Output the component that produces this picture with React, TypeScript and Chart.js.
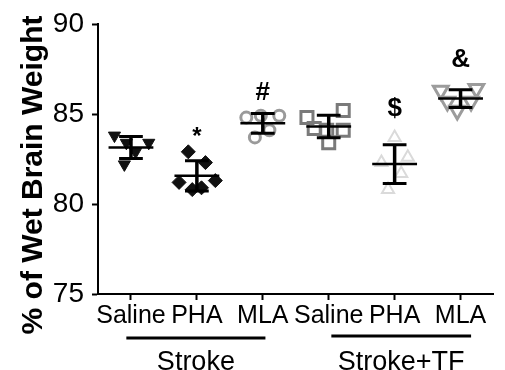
import React, { useEffect, useRef } from 'react';
import { Chart, registerables } from 'chart.js';

Chart.register(...registerables);

// ---- data ----
const categories = ['Saline', 'PHA', 'MLA', 'Saline', 'PHA', 'MLA'];
const groupNames = ['Stroke', 'Stroke+TF'];
const yTicks = [75, 80, 85, 90];
const yTitle = '% of Wet Brain Weight';

const strokeSaline = [83.8, 83.4, 83.4, 82.9, 82.2];
const strokePHA = [82.9, 82.3, 81.2, 81.3, 80.8, 80.9];
const strokeMLA = [84.8, 84.9, 84.9, 83.7, 84.1];
const tfSaline = [84.8, 85.2, 84.2, 84.1, 84.1, 83.4];
const tfPHA = [83.7, 82.6, 82.3, 81.7, 80.8];
const tfMLA = [86.3, 86.4, 85.7, 85.7, 85.2];

// horizontal scatter of each dot within its column (in category units)
const strokeSalineJitter = [-0.25, -0.07, 0.27, 0.07, -0.1];
const strokePHAJitter = [-0.13, 0.13, -0.27, 0.28, -0.07, 0.07];
const strokeMLAJitter = [-0.25, -0.03, 0.25, -0.12, 0.1];
const tfSalineJitter = [-0.33, 0.22, -0.22, -0.03, 0.22, 0];
const tfPHAJitter = [0, 0.2, -0.2, 0.1, -0.1];
const tfMLAJitter = [-0.3, 0.24, -0.2, 0.16, -0.05];

const significance = ['', '*', '#', '', '$', '&'];
const significanceY = [null, 83.7, 86.2, null, 85.3, 88.0];

const seriesValues = [strokeSaline, strokePHA, strokeMLA, tfSaline, tfPHA, tfMLA];
const seriesJitter = [strokeSalineJitter, strokePHAJitter, strokeMLAJitter, tfSalineJitter, tfPHAJitter, tfMLAJitter];

// ---- styles ----
const FONT = "'Liberation Sans', Arial, Helvetica, sans-serif";
const markerStyles = [
  { pointStyle: 'triangle', rotation: 180, radius: 7, bg: '#111111', border: '#111111', bw: 1 },
  { pointStyle: 'rectRot', rotation: 0, radius: 7, bg: '#111111', border: '#111111', bw: 1 },
  { pointStyle: 'circle', rotation: 0, radius: 5.5, bg: 'rgba(0,0,0,0)', border: '#9a9a9a', bw: 3 },
  { pointStyle: 'rect', rotation: 0, radius: 8.5, bg: 'rgba(0,0,0,0)', border: '#7a7a7a', bw: 3 },
  { pointStyle: 'triangle', rotation: 0, radius: 7, bg: 'rgba(0,0,0,0)', border: '#dadada', bw: 2 },
  { pointStyle: 'triangle', rotation: 180, radius: 8.5, bg: 'rgba(0,0,0,0)', border: '#9c9c9c', bw: 3 },
];

function meanOf(a: number[]) {
  return a.reduce((s, v) => s + v, 0) / a.length;
}
function sdOf(a: number[]) {
  const m = meanOf(a);
  return Math.sqrt(a.reduce((s, v) => s + (v - m) * (v - m), 0) / (a.length - 1));
}

const summaryPlugin = {
  id: 'summaryBars',
  afterDatasetsDraw(chart: any) {
    const { ctx } = chart;
    const xs = chart.scales.x;
    const ys = chart.scales.y;
    ctx.save();
    ctx.strokeStyle = '#000';
    ctx.lineCap = 'butt';
    seriesValues.forEach((vals, i) => {
      const m = meanOf(vals);
      const sd = sdOf(vals);
      const cx = xs.getPixelForValue(i);
      const halfMean = xs.getPixelForValue(i + 0.34) - cx;
      const halfCap = xs.getPixelForValue(i + 0.18) - cx;
      const yM = ys.getPixelForValue(m);
      const yT = ys.getPixelForValue(m + sd);
      const yB = ys.getPixelForValue(m - sd);
      ctx.lineWidth = 2.5;
      ctx.beginPath();
      ctx.moveTo(cx - halfMean, yM);
      ctx.lineTo(cx + halfMean, yM);
      ctx.stroke();
      ctx.lineWidth = 3.5;
      ctx.beginPath();
      ctx.moveTo(cx, yT);
      ctx.lineTo(cx, yB);
      ctx.stroke();
      ctx.lineWidth = 3;
      ctx.beginPath();
      ctx.moveTo(cx - halfCap, yT);
      ctx.lineTo(cx + halfCap, yT);
      ctx.moveTo(cx - halfCap, yB);
      ctx.lineTo(cx + halfCap, yB);
      ctx.stroke();
      const sy = significanceY[i];
      if (significance[i] && sy !== null) {
        ctx.fillStyle = '#000';
        ctx.font = `bold ${significance[i] === '*' ? 24 : 26}px ${FONT}`;
        ctx.textAlign = 'center';
        ctx.textBaseline = 'middle';
        ctx.fillText(significance[i], cx, ys.getPixelForValue(sy));
      }
    });
    ctx.restore();
  },
  afterDraw(chart: any) {
    const { ctx } = chart;
    const xs = chart.scales.x;
    ctx.save();
    // group underlines and names
    const spans = [
      [-0.07, 2.04],
      [3.04, 5.16],
    ];
    const lineYs = [338, 336];
    ctx.strokeStyle = '#000';
    ctx.lineWidth = 3;
    ctx.fillStyle = '#000';
    ctx.font = `27px ${FONT}`;
    ctx.textAlign = 'center';
    ctx.textBaseline = 'alphabetic';
    spans.forEach((s, i) => {
      const x0 = xs.getPixelForValue(s[0]);
      const x1 = xs.getPixelForValue(s[1]);
      ctx.beginPath();
      ctx.moveTo(x0, lineYs[i]);
      ctx.lineTo(x1, lineYs[i]);
      ctx.stroke();
      ctx.fillText(groupNames[i], (x0 + x1) / 2, 370);
    });
    // y axis title
    ctx.translate(42, 175);
    ctx.rotate(-Math.PI / 2);
    ctx.font = `bold 30px ${FONT}`;
    ctx.textAlign = 'center';
    ctx.textBaseline = 'alphabetic';
    ctx.fillText(yTitle, 0, 0);
    ctx.restore();
  },
};

export default function App() {
  const ref = useRef<HTMLCanvasElement | null>(null);
  useEffect(() => {
    if (!ref.current) return;
    const datasets = seriesValues.map((vals, i) => {
      const st = markerStyles[i];
      return {
        label: categories[i],
        data: vals.map((v, j) => ({ x: i + seriesJitter[i][j], y: v })),
        pointStyle: st.pointStyle,
        rotation: st.rotation,
        pointRadius: st.radius,
        pointBackgroundColor: st.bg,
        pointBorderColor: st.border,
        pointBorderWidth: st.bw,
        showLine: false,
      };
    });
    const chart = new Chart(ref.current, {
      type: 'scatter',
      data: { datasets: datasets as any },
      plugins: [summaryPlugin],
      options: {
        animation: false,
        responsive: true,
        maintainAspectRatio: false,
        layout: { padding: { top: 24, right: 0, left: 0, bottom: 0 } },
        plugins: { legend: { display: false }, tooltip: { enabled: false } },
        scales: {
          x: {
            type: 'linear',
            min: -0.5,
            max: 5.5,
            afterBuildTicks: (scale: any) => {
              scale.ticks = categories.map((_, i) => ({ value: i }));
            },
            afterFit: (scale: any) => {
              scale.height = 76;
            },
            grid: { display: true, drawOnChartArea: false, drawTicks: true, tickLength: 6, tickWidth: 2, tickColor: '#000' },
            border: { display: true, color: '#000', width: 2 },
            ticks: {
              autoSkip: false,
              maxRotation: 0,
              minRotation: 0,
              padding: 4,
              color: '#000',
              font: { family: FONT, size: 25, lineHeight: 1 },
              callback: (v: any) => categories[Math.round(Number(v))] ?? '',
            },
          },
          y: {
            min: 75,
            max: 90,
            afterBuildTicks: (scale: any) => {
              scale.ticks = yTicks.map((v) => ({ value: v }));
            },
            afterFit: (scale: any) => {
              scale.width = 98;
            },
            grid: { display: true, drawOnChartArea: false, drawTicks: true, tickLength: 6, tickWidth: 2, tickColor: '#000' },
            border: { display: true, color: '#000', width: 2 },
            ticks: {
              padding: 8,
              color: '#000',
              font: { family: FONT, size: 28, lineHeight: 1 },
            },
          },
        },
      },
    });
    return () => chart.destroy();
  }, []);
  return (
    <div style={{ position: 'absolute', left: 0, top: 0, width: 505, height: 370, background: '#fff' }}>
      <canvas ref={ref} />
    </div>
  );
}
